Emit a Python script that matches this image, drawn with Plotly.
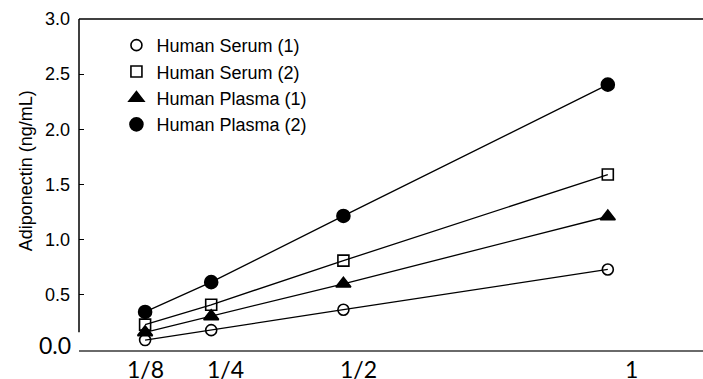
import plotly.graph_objects as go

# data
dilution = [0.125, 0.25, 0.5, 1.0]
tick_labels = ["1/8", "1/4", "1/2", "1"]
label_pos = [0.125, 0.277, 0.528, 1.045]  # where the reference places its hand-set labels

series_names = ["Human Serum (1)", "Human Serum (2)", "Human Plasma (1)", "Human Plasma (2)"]
serum1 = [0.09, 0.18, 0.365, 0.73]
serum2 = [0.23, 0.41, 0.81, 1.59]
plasma1 = [0.16, 0.305, 0.60, 1.21]
plasma2 = [0.345, 0.615, 1.215, 2.405]
y_ticks = [0.5, 1.0, 1.5, 2.0, 2.5, 3.0]

symbols = ["circle-open", "square-open", "triangle-up", "circle"]
sizes = [11, 11, 13, 13]

fig = go.Figure()
for i, (name, vals) in enumerate(zip(series_names, [serum1, serum2, plasma1, plasma2])):
    fig.add_trace(go.Scatter(x=dilution, y=vals, mode="lines", line=dict(color="black", width=1.3),
                             showlegend=False, legendgroup=name, hoverinfo="skip", cliponaxis=False))
    fig.add_trace(go.Scatter(x=dilution, y=vals, mode="markers", name=name, legendgroup=name,
                             cliponaxis=False,
                             marker=dict(symbol=symbols[i], size=sizes[i], color="black",
                                         line=dict(color="black", width=1.6))))

arial = "Arial, Liberation Sans, sans-serif"
lato = "Lato, Carlito, sans-serif"

fig.update_layout(
    template="none",
    width=703, height=379,
    margin=dict(l=79, r=0, t=19, b=29, autoexpand=False),
    paper_bgcolor="white", plot_bgcolor="white",
    showlegend=True,
    legend=dict(x=0.06, y=0.976, xanchor="left", yanchor="top", bgcolor="rgba(0,0,0,0)",
                font=dict(family=arial, size=18, color="black"), tracegroupgap=0),
    xaxis=dict(range=[0, 1.18], showgrid=False, zeroline=False, showticklabels=False, ticks="",
               showline=True, linecolor="#6a6a6a", linewidth=2, automargin=False),
    yaxis=dict(range=[0, 3.0], showgrid=False, zeroline=False, showline=False, automargin=False,
               tickvals=y_ticks, ticktext=[f"{v:.1f}" for v in y_ticks],
               ticks="inside", ticklen=5, tickcolor="black", tickwidth=1,
               ticklabelstandoff=8,
               tickfont=dict(family=arial, size=18, color="black")),
)

# axis frame pieces: top border and broken left axis
fig.add_shape(type="line", xref="paper", yref="paper", x0=0, x1=1, y0=1, y1=1,
              line=dict(color="black", width=1.5))
fig.add_shape(type="line", xref="paper", yref="y", x0=0, x1=0, y0=0.16, y1=3.0,
              line=dict(color="black", width=1.5))

# hand-placed tick labels
for lab, pos in zip(tick_labels, label_pos):
    fig.add_annotation(x=pos, y=0, xref="x", yref="y", text=lab, showarrow=False,
                       yanchor="top", yshift=-3, font=dict(family=lato, size=23, color="black"))
fig.add_annotation(x=0, y=0, xref="paper", yref="y", text="0.0", showarrow=False,
                   xanchor="right", xshift=-6, yshift=5, font=dict(family=lato, size=23, color="black"))

fig.add_annotation(x=-0.104, y=0.54, xref="paper", yref="paper", text="Adiponectin (ng/mL)",
                   textangle=-90, showarrow=False, font=dict(family=arial, size=18, color="black"))

fig.write_html("out.html", config={"displayModeBar": False},
               post_script="document.body.style.margin='0px';document.body.style.overflow='hidden';")
